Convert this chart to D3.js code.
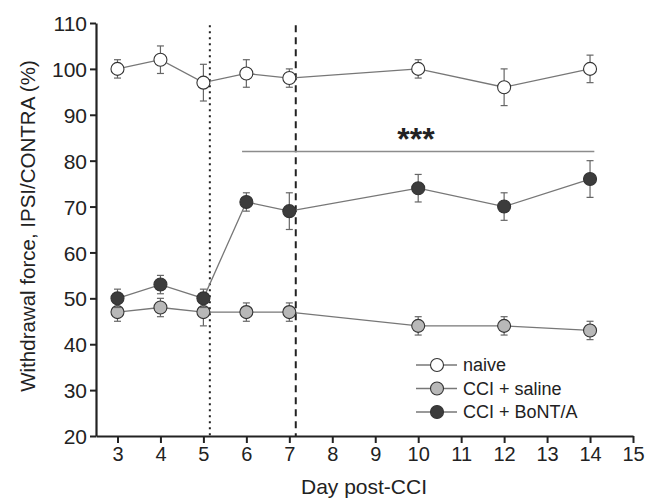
<!DOCTYPE html>
<html lang="en">
<head>
  <meta charset="utf-8">
  <title>Withdrawal force</title>
  <script src="https://d3js.org/d3.v7.min.js"></script>
  <style>
    body { margin: 0; background: #fff; }
    text { font-family: "Liberation Sans", Arial, sans-serif; fill: #222; }
  </style>
</head>
<body>
<script type="text/javascript">

  // data
  var days = [3, 4, 5, 6, 7, 10, 12, 14];
  var naive = [100, 102, 97, 99, 98, 100, 96, 100];
  var naiveErr = [2, 3, 4, 3, 2, 2, 4, 3];
  var saline = [47, 48, 47, 47, 47, 44, 44, 43];
  var salineErr = [2, 2, 3, 2, 2, 2, 2, 2];
  var bont = [50, 53, 50, 71, 69, 74, 70, 76];
  var bontErr = [2, 2, 2, 2, 4, 3, 3, 4];
  var seriesNames = ["naive", "CCI + saline", "CCI + BoNT/A"];
  var seriesFills = ["#ffffff", "#b8b8b8", "#3c3c3c"];
  var xTicks = [3, 4, 5, 6, 7, 8, 9, 10, 11, 12, 13, 14, 15];
  var yTicks = [20, 30, 40, 50, 60, 70, 80, 90, 100, 110];
  var markerLines = [5.15, 7.15];   // dotted, dashed
  var sigLine = { from: 5.9, to: 14.1, value: 82, label: "***" };

  var svg_width = 656;
  var svg_height = 499;

  var svg = d3.select("body")
              .append("svg")
              .attr("width", svg_width)
              .attr("height", svg_height);

  var xScale = d3.scaleLinear().domain([2.5, 15]).range([96, 633]);
  var yScale = d3.scaleLinear().domain([20, 110]).range([436, 23]);

  // axes
  var xAxis = svg.append("g")
     .attr("transform", "translate(0," + yScale(20) + ")")
     .call(d3.axisBottom(xScale).tickValues(xTicks).tickSize(7).tickPadding(4).tickSizeOuter(0));
  var yAxis = svg.append("g")
     .attr("transform", "translate(" + xScale(2.5) + ",0)")
     .call(d3.axisLeft(yScale).tickValues(yTicks).tickSize(6).tickPadding(3).tickSizeOuter(0));

  [xAxis, yAxis].forEach(function(ax) {
    ax.select(".domain").attr("stroke", "#222").attr("stroke-width", 2.2);
    ax.selectAll(".tick line").attr("stroke", "#222").attr("stroke-width", 2);
    ax.selectAll(".tick text")
      .attr("font-family", "Liberation Sans, Arial, sans-serif")
      .attr("font-size", "20px").attr("fill", "#222");
  });
  yAxis.selectAll(".tick text").attr("font-size", "21px").attr("dy", "0.36em");

  // axis titles
  svg.append("text")
     .attr("x", 364).attr("y", 494)
     .attr("text-anchor", "middle")
     .attr("font-size", "21px")
     .text("Day post-CCI");
  svg.append("text")
     .attr("transform", "translate(35,226) rotate(-90)")
     .attr("text-anchor", "middle")
     .attr("font-size", "20.5px")
     .text("Withdrawal force, IPSI/CONTRA (%)");

  // vertical reference lines
  svg.selectAll(".vline")
     .data(markerLines)
     .enter()
       .append("line")
       .attr("x1", function(d) { return xScale(d); })
       .attr("x2", function(d) { return xScale(d); })
       .attr("y1", yScale(109.5))
       .attr("y2", yScale(20))
       .attr("stroke", "#222")
       .attr("stroke-width", 2)
       .attr("stroke-dasharray", function(d, i) { return i === 0 ? "2,4" : "7,5"; });

  // significance bar
  svg.append("line")
     .attr("x1", xScale(sigLine.from)).attr("x2", xScale(sigLine.to))
     .attr("y1", yScale(sigLine.value)).attr("y2", yScale(sigLine.value))
     .attr("stroke", "#8c8c8c").attr("stroke-width", 1.6);
  svg.append("text")
     .attr("x", xScale(9.95)).attr("y", yScale(sigLine.value) - 1)
     .attr("text-anchor", "middle")
     .attr("font-size", "32px")
     .attr("font-weight", "bold")
     .text(sigLine.label);

  var series = [
    { name: seriesNames[0], vals: naive, err: naiveErr, fill: seriesFills[0] },
    { name: seriesNames[1], vals: saline, err: salineErr, fill: seriesFills[1] },
    { name: seriesNames[2], vals: bont, err: bontErr, fill: seriesFills[2] }
  ];

  var line = d3.line()
               .x(function(d) { return xScale(d.x); })
               .y(function(d) { return yScale(d.y); });

  series.forEach(function(s) {
    var pts = days.map(function(d, i) { return { x: d, y: s.vals[i], e: s.err[i] }; });
    var g = svg.append("g");

    g.append("path")
     .datum(pts)
     .attr("d", line)
     .attr("fill", "none")
     .attr("stroke", "#777")
     .attr("stroke-width", 1.3);

    // error bars
    var eb = g.selectAll(".err").data(pts).enter().append("g");
    eb.append("line")
      .attr("x1", function(d) { return xScale(d.x); })
      .attr("x2", function(d) { return xScale(d.x); })
      .attr("y1", function(d) { return yScale(d.y + d.e); })
      .attr("y2", function(d) { return yScale(d.y - d.e); })
      .attr("stroke", "#666").attr("stroke-width", 1.2);
    [1, -1].forEach(function(sign) {
      eb.append("line")
        .attr("x1", function(d) { return xScale(d.x) - 3.5; })
        .attr("x2", function(d) { return xScale(d.x) + 3.5; })
        .attr("y1", function(d) { return yScale(d.y + sign * d.e); })
        .attr("y2", function(d) { return yScale(d.y + sign * d.e); })
        .attr("stroke", "#666").attr("stroke-width", 1.2);
    });

    g.selectAll("circle")
     .data(pts)
     .enter()
       .append("circle")
       .attr("cx", function(d) { return xScale(d.x); })
       .attr("cy", function(d) { return yScale(d.y); })
       .attr("r", 6.5)
       .attr("fill", s.fill)
       .attr("stroke", "#333")
       .attr("stroke-width", 1.1);
  });

  // legend
  var legend = svg.append("g").attr("transform", "translate(416,365)");
  var rows = legend.selectAll("g")
     .data(series)
     .enter()
       .append("g")
       .attr("transform", function(d, i) { return "translate(0," + (i * 23.5) + ")"; });
  rows.append("line")
      .attr("x1", 0).attr("x2", 41).attr("y1", 0).attr("y2", 0)
      .attr("stroke", "#777").attr("stroke-width", 1.3);
  rows.append("circle")
      .attr("cx", 21).attr("cy", 0).attr("r", 6.5)
      .attr("fill", function(d) { return d.fill; })
      .attr("stroke", "#333").attr("stroke-width", 1.1);
  rows.append("text")
      .attr("x", 47).attr("y", 0).attr("dy", "0.35em")
      .attr("font-size", "18px")
      .text(function(d) { return d.name; });

</script>
</body>
</html>
